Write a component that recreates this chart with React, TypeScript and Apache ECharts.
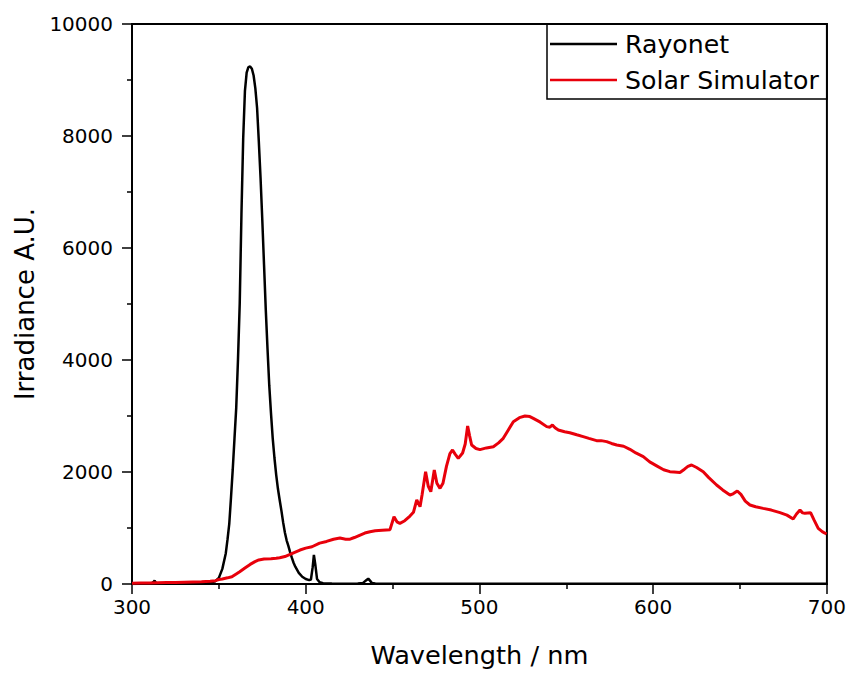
import React, { useEffect, useRef } from "react";
import * as echarts from "echarts";

const rayonetNm = [300, 305, 311, 312.5, 313, 314, 320, 330, 340, 345, 348, 350, 352, 354, 355, 356, 357, 358, 359, 360, 361, 362, 363, 364, 365, 366, 367, 368, 369, 370, 371, 372, 373, 374, 375, 376, 377, 378, 379, 380, 381, 382, 383, 384, 385, 386, 387, 388, 389, 390, 391, 392, 393, 394, 396, 398, 400, 402, 403, 404, 404.7, 405.5, 406.5, 408, 410, 415, 420, 430, 433, 435, 436, 437, 438, 440, 460, 500, 550, 600, 650, 700];
const rayonetVal = [0, 5, 5, 40, 60, 10, 5, 5, 10, 25, 50, 110, 270, 550, 800, 1080, 1550, 2050, 2600, 3150, 4000, 5000, 6600, 7950, 8800, 9130, 9230, 9240, 9200, 9080, 8850, 8500, 7900, 7250, 6500, 5700, 4900, 4200, 3550, 3050, 2600, 2250, 1950, 1700, 1500, 1310, 1100, 920, 780, 680, 570, 470, 380, 310, 200, 130, 90, 70, 80, 300, 520, 350, 90, 30, 15, 8, 5, 8, 20, 70, 95, 60, 20, 8, 5, 5, 5, 5, 5, 3];

const solarNm = [300, 305, 310, 315, 320, 325, 330, 335, 340, 345, 348, 350, 352, 355, 357.5, 360, 362, 365, 368, 370.8, 373, 376, 380, 383, 385, 388, 391, 394, 396.7, 400, 403.6, 408, 412, 416, 419.7, 423, 425.5, 428, 431, 434, 437, 440, 444, 448.5, 450.8, 452.5, 454.2, 457, 460, 462, 463.9, 465.8, 467, 469, 470.5, 472, 474, 475.5, 477.3, 479, 481, 483, 484.5, 486, 487.8, 490.3, 491.8, 493.2, 494.3, 495.5, 498, 500.3, 504, 508, 511, 513.7, 516, 519.5, 523, 526.2, 529, 531, 535, 538.7, 540.5, 542, 543.5, 545.4, 549, 552, 556, 559.7, 563, 567.4, 570, 573.2, 576, 579, 583, 586.6, 590, 594.3, 598, 602, 606, 609.6, 612, 615.4, 618, 620, 622.1, 625, 628.8, 632, 636.5, 640, 644.2, 646, 648.4, 650.5, 653, 655.7, 659, 663.3, 668, 673, 677, 680.6, 682.5, 684.5, 686, 687.3, 690.6, 692.5, 695, 697.5, 699.8, 700];
const solarVal = [15, 20, 18, 22, 25, 25, 30, 35, 40, 50, 60, 80, 90, 110, 130, 180, 220, 286, 350, 400, 430, 446, 450, 460, 470, 490, 530, 571, 607, 640, 665, 730, 760, 800, 820, 800, 800, 830, 870, 910, 934, 950, 960, 970, 1200, 1110, 1083, 1130, 1214, 1280, 1500, 1381, 1600, 2006, 1750, 1649, 2036, 1800, 1708, 1800, 2100, 2330, 2393, 2320, 2244, 2339, 2500, 2821, 2650, 2482, 2420, 2400, 2430, 2452, 2520, 2601, 2720, 2898, 2970, 3000, 2990, 2958, 2890, 2810, 2800, 2839, 2790, 2750, 2720, 2702, 2665, 2631, 2600, 2560, 2560, 2542, 2510, 2482, 2460, 2405, 2340, 2274, 2180, 2110, 2040, 2006, 2000, 1990, 2050, 2100, 2125, 2080, 2006, 1900, 1768, 1680, 1589, 1610, 1661, 1600, 1480, 1411, 1380, 1351, 1320, 1274, 1230, 1161, 1250, 1321, 1270, 1262, 1274, 1150, 994, 930, 893, 885];

const seriesNames = ["Rayonet", "Solar Simulator"];
const xTicks = { min: 300, max: 700, step: 100 };
const yTicks = { min: 0, max: 10000, step: 2000 };

const FONT = "DejaVu Sans";

export default function App() {
  const ref = useRef<HTMLDivElement>(null);
  useEffect(() => {
    if (!ref.current) return;
    const chart = echarts.init(ref.current, undefined, { renderer: "svg" });
    const pairs = (xs: number[], ys: number[]) => xs.map((x, i) => [x, ys[i]]);
    const axisCommon = {
      axisLine: { show: true, onZero: false, lineStyle: { color: "#000", width: 2 } },
      axisTick: { show: true, length: 10, lineStyle: { color: "#000", width: 1.5 } },
      minorTick: { show: true, splitNumber: 2, length: 5, lineStyle: { color: "#000", width: 1.5 } },
      splitLine: { show: false },
      minorSplitLine: { show: false },
    };
    chart.setOption({
      animation: false,
      backgroundColor: "#fff",
      grid: { left: 132, right: 22, top: 24, bottom: 89, show: true, borderColor: "#000", borderWidth: 2 },
      xAxis: {
        type: "value",
        min: xTicks.min,
        max: xTicks.max,
        interval: xTicks.step,
        ...axisCommon,
        axisLabel: { fontSize: 20, color: "#000", margin: 13, fontFamily: FONT, formatter: (v: number) => String(v) },
        name: "Wavelength / nm",
        nameLocation: "middle",
        nameGap: 58,
        nameTextStyle: { fontSize: 25.6, color: "#000", fontFamily: FONT },
      },
      yAxis: {
        type: "value",
        min: yTicks.min,
        max: yTicks.max,
        interval: yTicks.step,
        ...axisCommon,
        axisLabel: { fontSize: 20, color: "#000", margin: 19, fontFamily: FONT, formatter: (v: number) => String(v) },
        name: "Irradiance A.U.",
        nameLocation: "middle",
        nameGap: 89,
        nameTextStyle: { fontSize: 26, color: "#000", fontFamily: FONT },
      },
      legend: {
        data: seriesNames,
        orient: "vertical",
        left: 550,
        top: 31,
        padding: 0,
        icon: "rect",
        itemWidth: 67,
        itemHeight: 2.5,
        itemGap: 10,
        textStyle: { fontSize: 25.2, lineHeight: 26, color: "#000", fontFamily: FONT, padding: [0, 0, 0, 3] },
      },
      graphic: [
        {
          type: "rect",
          shape: { x: 547, y: 24, width: 280, height: 75 },
          style: { fill: "transparent", stroke: "#000", lineWidth: 1.5 },
          z: 10,
        },
      ],
      series: [
        {
          name: seriesNames[0],
          type: "line",
          data: pairs(rayonetNm, rayonetVal),
          symbol: "none",
          showSymbol: false,
          lineStyle: { color: "#000", width: 2.5 },
          itemStyle: { color: "#000" },
        },
        {
          name: seriesNames[1],
          type: "line",
          data: pairs(solarNm, solarVal),
          symbol: "none",
          showSymbol: false,
          lineStyle: { color: "#e8000b", width: 3 },
          itemStyle: { color: "#e8000b" },
        },
      ],
    });
    return () => chart.dispose();
  }, []);
  return <div ref={ref} style={{ position: "absolute", left: 0, top: 0, width: 849, height: 673 }} />;
}
